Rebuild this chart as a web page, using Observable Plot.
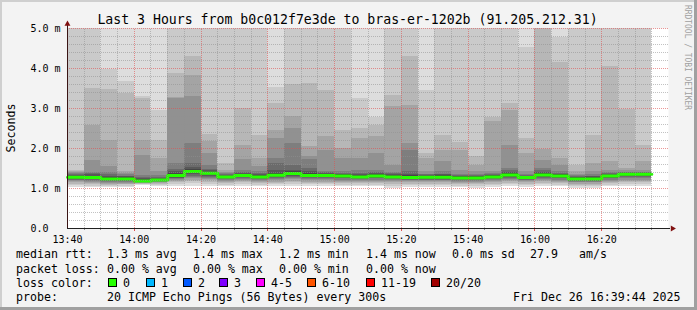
<!DOCTYPE html>
<html><head><meta charset="utf-8">
<script src="https://cdn.jsdelivr.net/npm/d3@7"></script>
<script src="https://cdn.jsdelivr.net/npm/@observablehq/plot@0.6"></script>
<style>
html,body{margin:0;padding:0;background:#f3f3f3;}
#wrap{position:relative;width:697px;height:310px;background:#f3f3f3;overflow:hidden;}
#wrap svg{position:absolute;left:0;top:0;}
</style></head><body><div id="wrap"></div>
<script>
// ---------- DATA ----------
const titleText = "Last 3 Hours from b0c012f7e3de to bras-er-1202b (91.205.212.31)";
const startTime = "2025-12-26T13:40:00Z";
const endTime = "2025-12-26T16:40:00Z";
const stepMinutes = 5;
// 20 sorted ping RTTs (ms) per 5-minute step
const pings = [
 [1.03,1.07,1.11,1.14,1.17,1.19,1.21,1.23,1.25,1.27,1.29,1.31,1.33,1.35,1.38,1.41,1.43,1.46,5.5,6.0],
 [1.02,1.06,1.10,1.13,1.16,1.18,1.20,1.22,1.24,1.26,1.29,1.31,1.34,1.37,1.40,1.71,2.58,3.51,5.5,6.0],
 [1.02,1.05,1.08,1.11,1.13,1.15,1.17,1.19,1.21,1.23,1.25,1.28,1.31,1.35,1.40,1.54,2.21,3.47,3.98,6.0],
 [1.03,1.06,1.09,1.11,1.13,1.15,1.17,1.19,1.21,1.23,1.25,1.27,1.29,1.31,1.34,1.38,1.42,3.37,3.67,6.0],
 [1.07,1.09,1.10,1.12,1.13,1.14,1.15,1.16,1.17,1.18,1.20,1.23,1.25,1.28,1.33,1.83,2.19,3.25,3.30,6.0],
 [1.04,1.07,1.10,1.12,1.14,1.16,1.17,1.18,1.19,1.20,1.22,1.23,1.25,1.28,1.32,1.42,1.75,2.21,2.96,6.0],
 [1.05,1.10,1.14,1.17,1.20,1.22,1.24,1.26,1.28,1.30,1.35,1.38,1.42,1.47,1.62,3.26,3.28,3.87,5.5,6.0],
 [1.06,1.12,1.17,1.21,1.25,1.28,1.31,1.34,1.37,1.40,1.45,1.48,1.52,1.62,2.12,3.31,3.82,4.30,5.5,6.0],
 [1.05,1.10,1.15,1.19,1.22,1.25,1.28,1.31,1.34,1.37,1.39,1.41,1.44,1.48,1.58,1.88,2.17,2.36,5.5,6.0],
 [1.04,1.08,1.12,1.15,1.18,1.20,1.22,1.24,1.26,1.28,1.30,1.31,1.33,1.35,1.37,1.40,1.45,1.62,5.5,6.0],
 [1.05,1.10,1.14,1.17,1.20,1.23,1.25,1.27,1.29,1.31,1.34,1.35,1.37,1.40,1.45,1.72,2.08,3.00,5.5,6.0],
 [1.04,1.08,1.12,1.15,1.18,1.20,1.22,1.24,1.26,1.28,1.30,1.32,1.34,1.37,1.42,1.54,1.75,2.33,5.5,6.0],
 [1.04,1.09,1.13,1.16,1.19,1.22,1.25,1.27,1.29,1.31,1.35,1.38,1.45,1.62,1.75,2.25,2.46,3.13,3.53,6.0],
 [1.05,1.10,1.14,1.18,1.22,1.25,1.28,1.30,1.33,1.36,1.39,1.42,1.46,1.58,2.12,2.50,2.81,3.61,5.5,6.0],
 [1.04,1.09,1.13,1.16,1.19,1.22,1.25,1.27,1.29,1.31,1.34,1.37,1.42,1.50,1.72,1.80,2.04,3.63,5.5,6.0],
 [1.04,1.09,1.13,1.16,1.19,1.22,1.25,1.27,1.29,1.31,1.34,1.35,1.37,1.39,1.42,1.96,2.29,3.46,5.5,6.0],
 [1.04,1.08,1.12,1.15,1.18,1.21,1.24,1.26,1.28,1.30,1.32,1.34,1.36,1.38,1.42,1.75,2.00,2.46,5.5,6.0],
 [1.04,1.08,1.12,1.15,1.18,1.20,1.22,1.24,1.26,1.28,1.30,1.32,1.35,1.38,1.45,1.75,2.25,2.50,3.24,6.0],
 [1.04,1.08,1.12,1.15,1.18,1.21,1.24,1.26,1.28,1.30,1.32,1.34,1.37,1.40,1.46,1.88,2.29,2.58,2.78,6.0],
 [1.01,1.06,1.10,1.14,1.17,1.20,1.22,1.24,1.26,1.28,1.30,1.32,1.34,1.37,1.40,1.58,3.04,3.33,5.5,6.0],
 [1.03,1.07,1.11,1.14,1.17,1.19,1.21,1.23,1.25,1.26,1.29,1.32,1.36,1.42,1.96,2.12,3.08,4.29,5.5,6.0],
 [1.03,1.07,1.11,1.14,1.17,1.19,1.21,1.23,1.25,1.27,1.29,1.31,1.32,1.34,1.36,1.42,1.75,1.88,3.46,6.0],
 [1.03,1.07,1.11,1.14,1.17,1.19,1.21,1.23,1.25,1.27,1.30,1.32,1.34,1.36,1.42,1.67,1.96,2.33,5.5,6.0],
 [1.03,1.06,1.10,1.13,1.16,1.18,1.20,1.22,1.24,1.25,1.27,1.29,1.30,1.32,1.36,1.46,1.96,2.15,5.5,6.0],
 [1.00,1.05,1.09,1.13,1.16,1.18,1.20,1.22,1.24,1.25,1.27,1.29,1.31,1.33,1.36,1.42,1.58,1.79,5.5,6.0],
 [1.03,1.07,1.11,1.14,1.17,1.20,1.22,1.24,1.26,1.28,1.30,1.32,1.33,1.35,1.38,1.42,2.67,2.77,5.5,6.0],
 [1.04,1.09,1.13,1.17,1.20,1.23,1.26,1.28,1.30,1.32,1.36,1.38,1.40,1.44,1.50,2.08,2.95,3.13,5.5,6.0],
 [1.03,1.07,1.11,1.14,1.17,1.19,1.21,1.23,1.25,1.26,1.29,1.30,1.31,1.33,1.36,1.42,1.88,2.25,4.52,6.0],
 [1.04,1.09,1.13,1.17,1.20,1.23,1.26,1.28,1.30,1.32,1.36,1.38,1.40,1.44,1.50,1.69,1.98,5.2,5.5,6.0],
 [1.04,1.08,1.12,1.15,1.18,1.21,1.24,1.26,1.28,1.30,1.32,1.34,1.36,1.38,1.42,1.58,1.75,4.14,4.78,6.0],
 [1.00,1.04,1.08,1.11,1.14,1.16,1.18,1.20,1.22,1.23,1.25,1.27,1.28,1.30,1.32,1.36,1.42,1.58,5.5,6.0],
 [1.00,1.04,1.08,1.11,1.14,1.16,1.18,1.20,1.22,1.23,1.25,1.27,1.29,1.31,1.34,1.42,1.62,2.33,5.5,6.0],
 [1.04,1.08,1.12,1.15,1.18,1.21,1.24,1.26,1.28,1.30,1.32,1.33,1.35,1.37,1.40,1.45,1.67,4.04,5.5,6.0],
 [1.05,1.10,1.14,1.18,1.21,1.24,1.27,1.30,1.32,1.34,1.36,1.37,1.38,1.39,1.41,1.44,1.50,2.98,5.5,6.0],
 [1.05,1.10,1.14,1.18,1.21,1.24,1.27,1.30,1.32,1.34,1.36,1.37,1.38,1.39,1.41,1.44,1.67,2.07,5.5,6.0]
];
const medians = [1.28,1.275,1.24,1.24,1.19,1.21,1.325,1.425,1.38,1.29,1.325,1.29,1.33,1.375,1.325,1.325,1.31,1.29,1.31,1.29,1.275,1.28,1.28,1.26,1.26,1.29,1.34,1.275,1.34,1.31,1.24,1.24,1.31,1.355,1.355];
const smokeGrays = ["#dddddd","#cacaca","#b7b7b7","#a4a4a4","#919191","#7e7e7e","#6b6b6b","#585858","#454545","#323232"];
const medianColor = "#26ff00";
const xTickLabels = ["13:40","14:00","14:20","14:40","15:00","15:20","15:40","16:00","16:20"];
const yTickValues = [0,1,2,3,4,5];
const yTickLabels = ["0.0\u00a0\u00a0","1.0 m","2.0 m","3.0 m","4.0 m","5.0 m"];
const yLabel = "Seconds";
const rttLabel = "median rtt:";
const rttStats = ["1.3 ms avg","1.4 ms max","1.2 ms min","1.4 ms now","0.0 ms sd","27.9","am/s"];
const lossLabel = "packet loss:";
const lossStats = ["0.00 % avg","0.00 % max","0.00 % min","0.00 % now"];
const lossColorLabel = "loss color:";
const lossLabels = ["0","1","2","3","4-5","6-10","11-19","20/20"];
const lossColors = ["#26ff00","#00b8ff","#0059ff","#7e00ff","#ff00ff","#ff5500","#ff0000","#a10000"];
const probeLabel = "probe:";
const probeText = "20 ICMP Echo Pings (56 Bytes) every 300s";
const dateText = "Fri Dec 26 16:39:44 2025";
const watermark = "RRDTOOL / TOBI OETIKER";

// ---------- BUILD ----------
const t0 = new Date(startTime), tEnd = new Date(endTime);
const stepMs = stepMinutes * 60000;
const bars = pings.map((p, j) => ({
  a: new Date(+t0 + j * stepMs), b: new Date(+t0 + (j + 1) * stepMs), p, m: medians[j]
}));
const medPts = bars.map(d => ({t: d.a, m: d.m}))
  .concat([{t: bars[bars.length - 1].b, m: medians[medians.length - 1]}]);
const dayPrefix = startTime.slice(0, 11);
const xTickDates = xTickLabels.map(s => new Date(dayPrefix + s + ":00Z"));
const allSteps = d3.utcMinute.every(stepMinutes).range(new Date(+t0 + 1), tEnd);
const minorTimes = allSteps.filter(d => !xTickDates.some(x => +x === +d));
const majorTimes = xTickDates.filter(d => +d > +t0);
const yMax = yTickValues[yTickValues.length - 1];
const yMinor = d3.range(1, yMax * 5).map(i => i / 5).filter(v => Math.abs(v - Math.round(v)) > 1e-6);
const yMajor = yTickValues.filter(v => v > 0);

const gridMinor = {stroke: "#909090", strokeOpacity: 0.55, strokeDasharray: "1,1", shapeRendering: "crispEdges"};
const gridMajor = {stroke: "#e05050", strokeOpacity: 0.6, strokeDasharray: "1,1", shapeRendering: "crispEdges"};

const chart = Plot.plot({
  width: 697, height: 245,
  marginLeft: 67, marginRight: 29, marginTop: 28, marginBottom: 17,
  style: {background: "transparent", fontFamily: "'DejaVu Sans Mono', monospace", fontSize: "10px", color: "#000", overflow: "visible"},
  x: {type: "utc", domain: [t0, tEnd]},
  y: {domain: [0, yMax]},
  marks: [
    Plot.frame({fill: "#ffffff", stroke: "none"}),
    ...smokeGrays.map((g, b) => Plot.rect(bars, {
      x1: "a", x2: "b", y1: d => d.p[b], y2: d => d.p[19 - b],
      fill: g, clip: true, shapeRendering: "crispEdges"
    })),
    Plot.line(medPts, {x: "t", y: "m", curve: "step-after", stroke: medianColor, strokeWidth: 3}),
    Plot.ruleY(yMinor, gridMinor),
    Plot.ruleX(minorTimes, {...gridMinor, y1: 0, y2: yMax}),
    Plot.ruleY(yMajor, gridMajor),
    Plot.ruleX(majorTimes, {...gridMajor, y1: 0, y2: yMax}),
    // axis tick marks
    Plot.ruleX(minorTimes, {y1: 0, y2: -0.05, stroke: "#909090", shapeRendering: "crispEdges"}),
    Plot.ruleX(majorTimes, {y1: 0, y2: -0.075, stroke: "#e05050", shapeRendering: "crispEdges"}),
    // axis lines
    Plot.ruleY([0], {x1: t0, x2: new Date(+tEnd + 0.6 * 60000), stroke: "#202020", shapeRendering: "crispEdges"}),
    Plot.ruleX([t0], {y1: 0, y2: yMax + 0.12, stroke: "#3a1414", shapeRendering: "crispEdges"}),
    Plot.dot([{t: tEnd, v: 0}], {x: "t", y: "v", symbol: "triangle", r: 2.2, rotate: 90, dx: 4, fill: "#801010", stroke: "none"}),
    Plot.dot([{t: t0, v: yMax}], {x: "t", y: "v", symbol: "triangle", r: 2.2, dy: -4.5, fill: "#801010", stroke: "none"}),
    Plot.axisX({ticks: xTickDates, tickFormat: d3.utcFormat("%H:%M"), tickSize: 0, tickPadding: 7, label: null, fontSize: 10}),
    Plot.axisY({ticks: yTickValues, tickFormat: d => yTickLabels[yTickValues.indexOf(d)], tickSize: 0, tickPadding: 7, label: null, fontSize: 10})
  ]
});
const wrap = document.getElementById("wrap");
wrap.appendChild(chart);

// ---------- OVERLAY TEXT ----------
const svg = d3.select(wrap).append("svg")
  .attr("width", 697).attr("height", 310)
  .style("font-family", "'DejaVu Sans Mono', monospace");

svg.append("text").attr("x", 347.5).attr("y", 23.6).attr("text-anchor", "middle")
  .attr("font-size", 13.2).attr("fill", "#000").text(titleText);

svg.append("text").attr("transform", "translate(15,128) rotate(-90)").attr("text-anchor", "middle")
  .attr("font-size", 11.6).attr("fill", "#000").text(yLabel);

svg.append("text").attr("transform", "translate(685,5) rotate(90)")
  .attr("font-size", 8.5).attr("fill", "#a0a0a0")
  .attr("textLength", 105).attr("lengthAdjust", "spacingAndGlyphs").text(watermark);

const fs = 11.6;
const rows = [258.3, 272.6, 286.8, 300.8];
const rttX = [107, 193, 279, 366, 452, 530, 579];
const put = (x, y, s) => svg.append("text").attr("x", x).attr("y", y).attr("font-size", fs).attr("fill", "#000").style("white-space", "pre").text(s);
put(16, rows[0], rttLabel);
rttStats.forEach((s, i) => put(rttX[i], rows[0], s));
put(16, rows[1], lossLabel);
lossStats.forEach((s, i) => put(rttX[i], rows[1], s));
put(16, rows[2], lossColorLabel);
const boxX = [108, 146, 183, 219, 256, 307, 366, 431];
lossLabels.forEach((s, i) => {
  svg.append("rect").attr("x", boxX[i] + 0.5).attr("y", 278.5).attr("width", 8).attr("height", 8)
    .attr("fill", lossColors[i]).attr("stroke", "#000").attr("stroke-width", 1);
  put(boxX[i] + 15, rows[2], s);
});
put(16, rows[3], probeLabel);
put(107, rows[3], probeText);
put(513, rows[3], dateText);

// border shading
svg.append("rect").attr("x", 0).attr("y", 0).attr("width", 697).attr("height", 2).attr("fill", "#cfcfcf");
svg.append("rect").attr("x", 0).attr("y", 0).attr("width", 2).attr("height", 310).attr("fill", "#cfcfcf");
svg.append("rect").attr("x", 694).attr("y", 0).attr("width", 3).attr("height", 310).attr("fill", "#a0a0a0");
svg.append("rect").attr("x", 0).attr("y", 307).attr("width", 697).attr("height", 3).attr("fill", "#a0a0a0");
</script></body></html>
